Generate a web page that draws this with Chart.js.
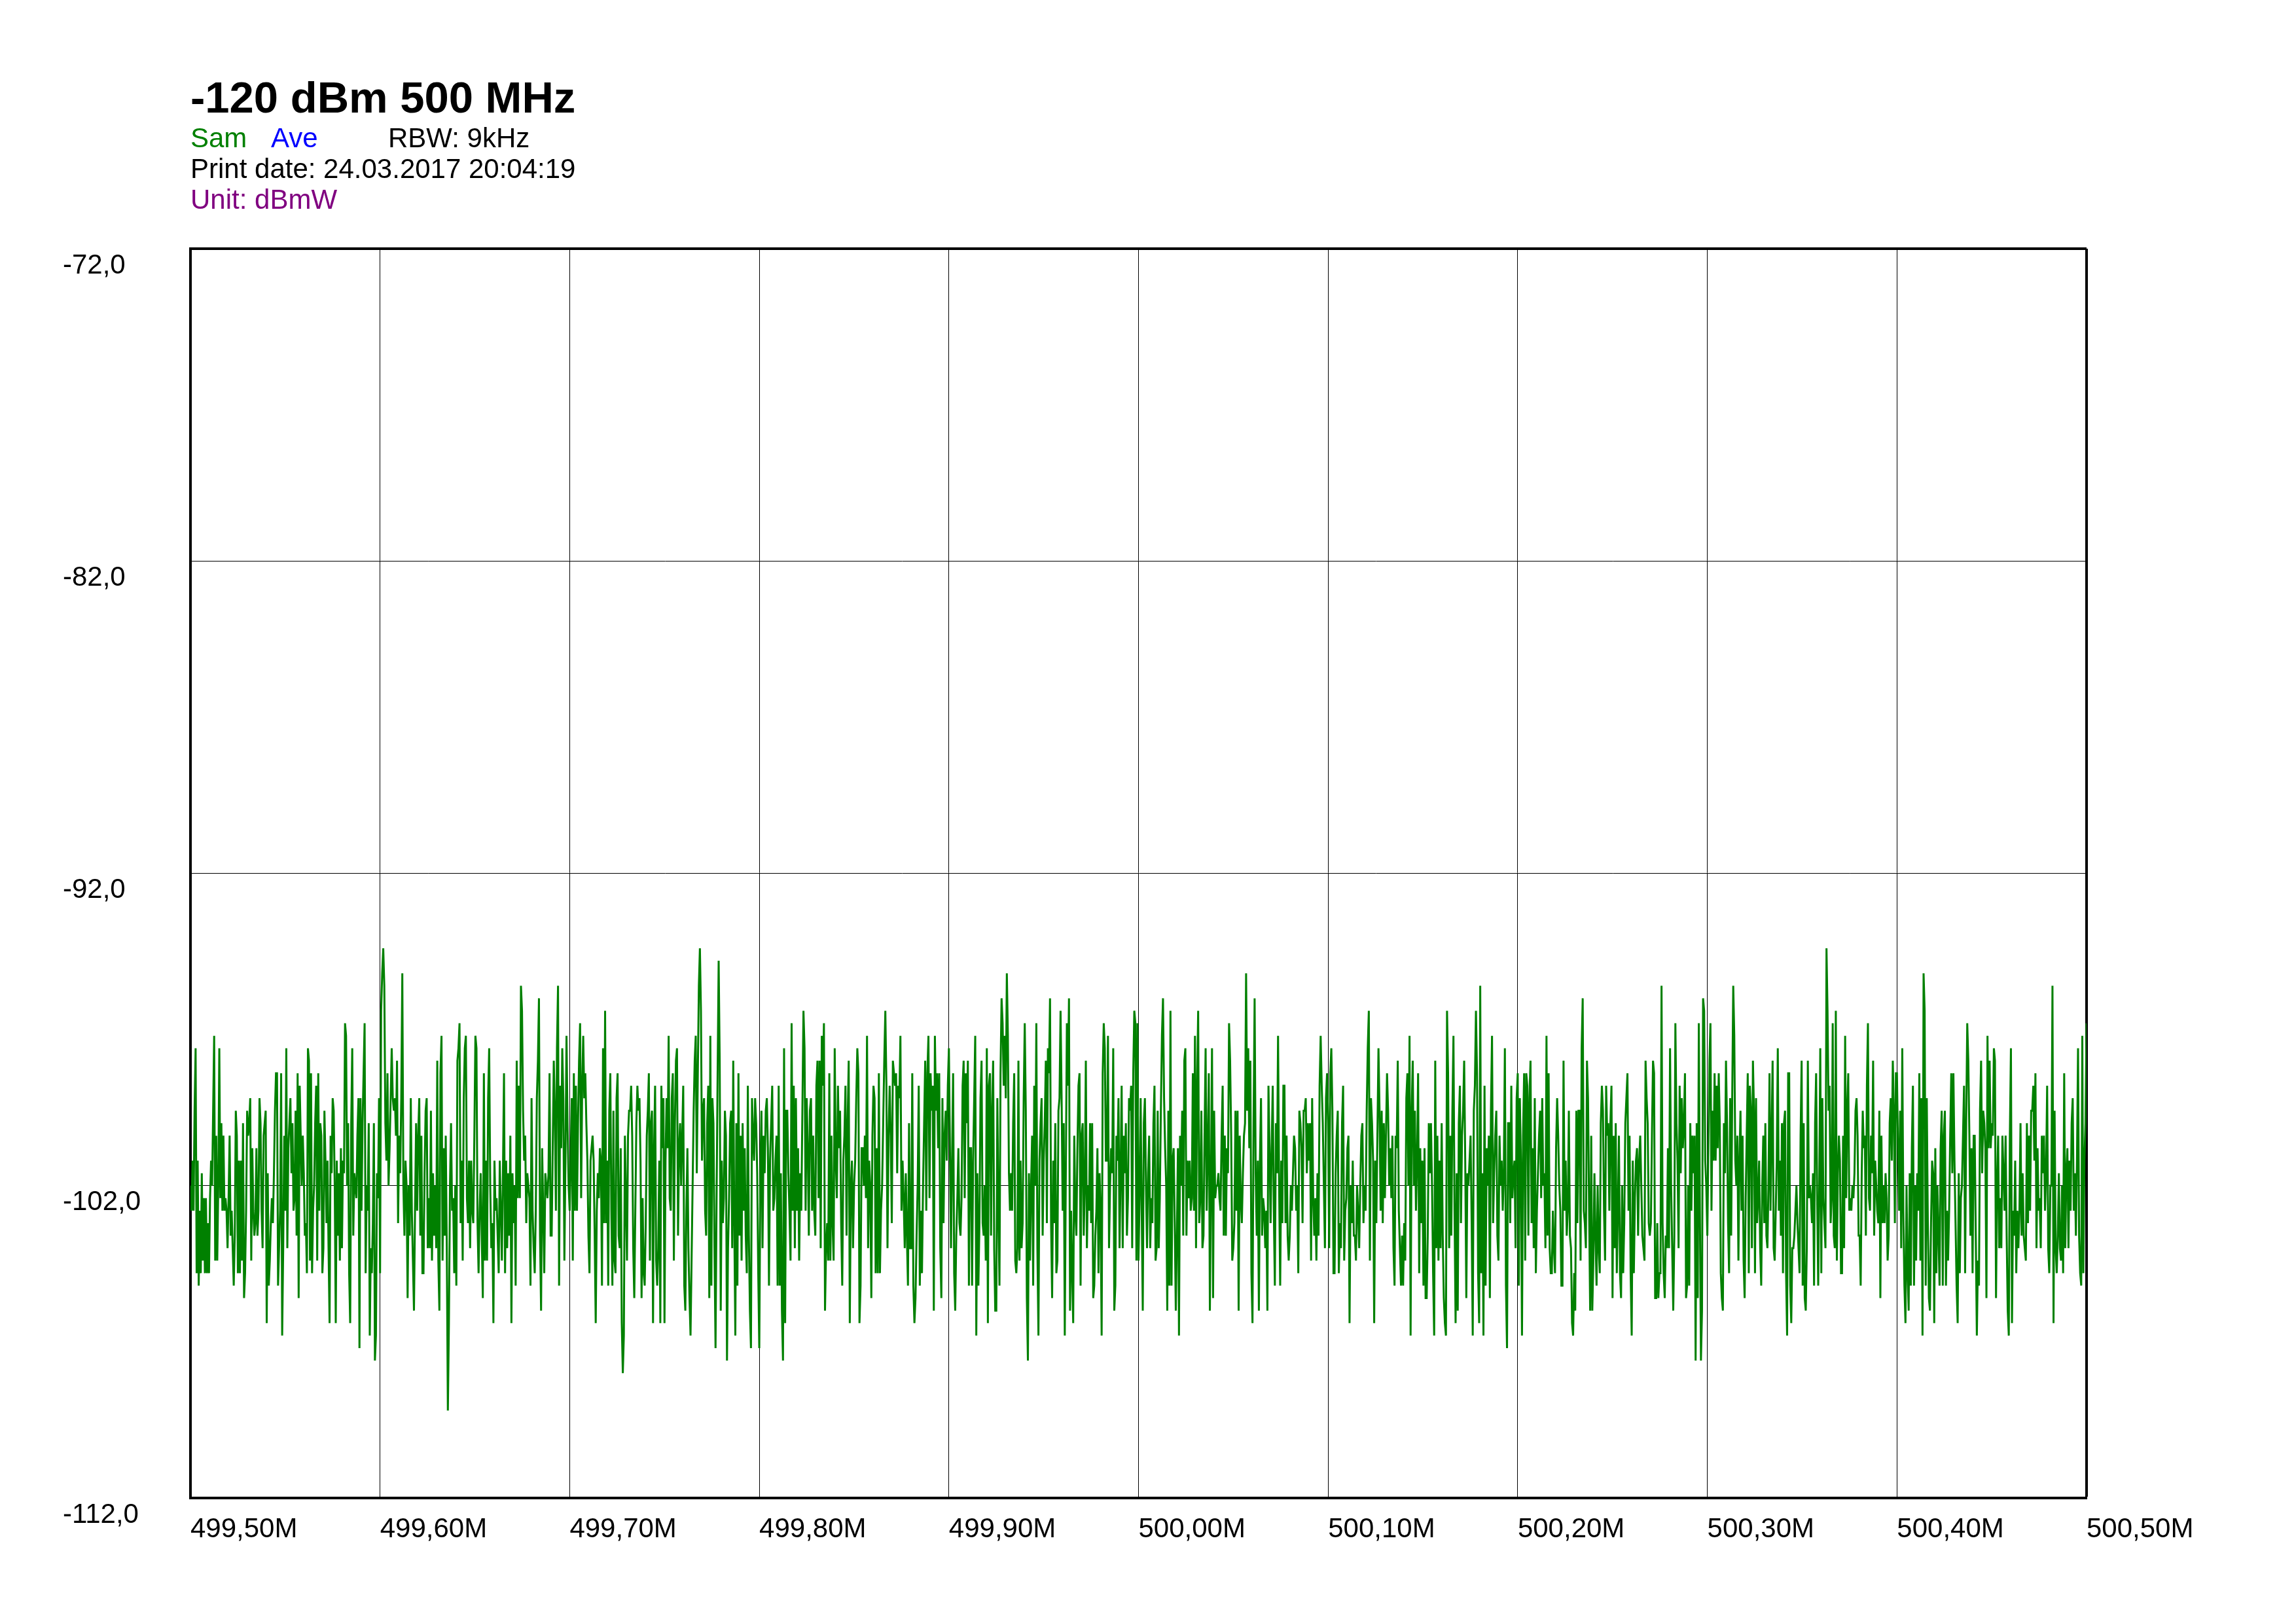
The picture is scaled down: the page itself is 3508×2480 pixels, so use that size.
<!DOCTYPE html>
<html>
<head>
<meta charset="utf-8">
<script src="https://cdn.jsdelivr.net/npm/chart.js@4.4.1/dist/chart.umd.min.js"></script>
<style>
  body { margin: 0; background: #fff; }
  #wrap { position: relative; width: 3508px; height: 2480px; }
  canvas { position: absolute; left: 0; top: 0; }
  .hdr { position: absolute; font-family: "Liberation Sans", Arial, sans-serif; white-space: nowrap; }
  .title { left: 291px; top: 115px; font-size: 67px; line-height: 67px; font-weight: bold; color: #000; }
  .line { font-size: 42px; line-height: 47px; }
</style>
</head>
<body>
<div id="wrap">
  <canvas id="chart" width="3508" height="2480"></canvas>
  <div class="hdr title">-120 dBm 500 MHz</div>
  <div class="hdr line" style="left:291px; top:187px; color:#008000;">Sam</div>
  <div class="hdr line" style="left:414px; top:187px; color:#0000ff;">Ave</div>
  <div class="hdr line" style="left:593px; top:187px; color:#000;">RBW: 9kHz</div>
  <div class="hdr line" style="left:291px; top:234px; color:#000;">Print date: 24.03.2017 20:04:19</div>
  <div class="hdr line" style="left:291px; top:281px; color:#800080;">Unit: dBmW</div>
</div>
<script>
// tick positions (MHz) and their labels
const xTickValues = [499.5, 499.6, 499.7, 499.8, 499.9, 500.0, 500.1, 500.2, 500.3, 500.4, 500.5];
const xTickLabels = ["499,50M", "499,60M", "499,70M", "499,80M", "499,90M", "500,00M", "500,10M", "500,20M", "500,30M", "500,40M", "500,50M"];
const yTickValues = [-112, -102, -92, -82, -72];
const yTickLabels = ["-112,0", "-102,0", "-92,0", "-82,0", "-72,0"];

// trace levels in dBm, one grid division at a time
const div0 = [-102.0, -102.8, -101.2, -102.8, -99.6, -97.6, -104.8, -101.2, -105.2, -102.8,
  -104.8, -101.6, -104.4, -102.4, -104.8, -102.4, -104.8, -103.2, -104.8, -102.4,
  -101.2, -102.0, -99.6, -97.2, -104.4, -100.4, -104.4, -102.0, -97.6, -102.4,
  -100.0, -102.8, -100.4, -102.8, -102.4, -102.8, -104.0, -102.4, -100.4, -103.6,
  -102.8, -104.0, -105.2, -103.6, -99.6, -100.4, -104.8, -101.2, -104.8, -101.2,
  -104.4, -100.0, -105.6, -104.8, -102.8, -99.6, -100.4, -100.0, -99.2, -104.4,
  -100.8, -102.8, -103.6, -103.2, -100.8, -103.6, -102.8, -99.2, -100.0, -102.8,
  -104.0, -100.4, -100.0, -99.6, -106.4, -101.6, -105.2, -104.4, -103.2, -102.4,
  -103.2, -101.6, -99.6, -98.4, -98.4, -105.2, -104.0, -102.8, -98.4, -106.8,
  -104.0, -100.4, -102.8, -97.6, -104.0, -100.8, -100.0, -99.2, -101.6, -100.0,
  -102.8, -102.4, -99.6, -103.6, -98.4, -105.6, -98.8, -100.4, -102.0, -100.4,
  -101.6, -103.6, -103.2, -104.8, -97.6, -98.0, -104.4, -98.4, -104.8, -102.8,
  -102.0, -100.0, -98.8, -104.4, -98.4, -102.8, -100.0, -100.4, -104.8, -104.0,
  -99.6, -101.2, -103.2, -101.2, -104.0, -106.4, -100.4, -101.6, -99.2, -99.6,
  -102.0, -106.4, -101.2, -103.6, -101.6, -104.4, -100.8, -104.0, -101.2, -101.6,
  -96.8, -97.2, -102.0, -100.0, -104.8, -106.4, -100.0, -97.6, -103.6, -101.6,
  -102.0, -102.4, -100.4, -99.2, -107.2, -99.2, -102.8, -100.0, -98.4, -96.8,
  -104.8, -102.0, -102.8, -100.0, -106.8, -104.0, -104.8, -103.2, -100.0, -107.6,
  -106.8, -101.6, -102.4, -99.2];
const div1 = [-104.8, -96.4, -95.2, -94.4, -95.6, -100.0, -101.2, -98.4, -102.0, -100.8,
  -99.2, -97.6, -99.2, -99.6, -99.2, -100.4, -98.0, -103.2, -100.4, -101.6,
  -99.2, -95.2, -102.0, -103.6, -101.2, -102.0, -105.6, -102.0, -103.6, -99.2,
  -102.8, -104.4, -106.0, -102.8, -100.0, -102.8, -100.4, -99.2, -103.6, -100.4,
  -104.8, -104.8, -101.6, -99.6, -99.2, -104.0, -102.4, -104.0, -99.6, -104.4,
  -101.6, -103.6, -102.0, -104.0, -98.0, -104.4, -106.0, -98.4, -97.2, -104.4,
  -100.8, -103.6, -100.4, -104.0, -109.2, -106.4, -102.0, -100.0, -102.8, -102.4,
  -104.8, -102.0, -105.2, -98.0, -97.6, -96.8, -103.2, -101.2, -104.4, -99.2,
  -97.6, -97.2, -102.4, -103.2, -101.2, -104.0, -101.2, -102.8, -103.2, -100.4,
  -97.2, -97.6, -103.2, -104.8, -102.8, -101.6, -103.6, -105.6, -98.4, -104.4,
  -101.2, -104.4, -99.2, -97.6, -102.0, -104.0, -103.2, -106.4, -101.2, -102.8,
  -102.4, -103.6, -104.8, -101.2, -102.8, -104.4, -101.6, -98.4, -104.8, -101.2,
  -104.0, -101.6, -103.6, -100.4, -106.4, -101.6, -103.2, -102.0, -105.2, -98.0,
  -102.4, -98.8, -102.4, -95.6, -96.4, -99.6, -101.2, -100.4, -103.2, -101.6,
  -102.0, -102.4, -105.2, -99.2, -102.8, -104.0, -104.8, -102.8, -99.2, -98.0,
  -96.0, -103.6, -106.0, -100.8, -102.8, -104.8, -101.6, -102.0, -102.4, -101.6,
  -98.4, -103.6, -103.6, -100.8, -98.0, -99.6, -102.8, -97.6, -95.6, -105.2,
  -98.8, -100.8, -97.6, -99.2, -104.4, -101.2, -97.2, -100.0, -102.0];
const div2 = [-102.8, -101.2, -99.2, -104.4, -98.4, -102.8, -98.8, -102.8, -100.0, -98.0,
  -96.8, -102.4, -98.8, -97.2, -99.2, -98.4, -100.0, -101.2, -103.6, -104.8,
  -101.2, -100.8, -100.4, -101.2, -103.6, -106.4, -102.8, -101.6, -102.4, -100.8,
  -101.2, -105.2, -97.6, -103.2, -96.4, -103.2, -101.2, -105.2, -99.6, -98.4,
  -102.8, -105.2, -99.6, -104.4, -104.8, -99.2, -98.4, -103.6, -104.0, -100.8,
  -106.4, -108.0, -106.8, -100.4, -102.4, -104.4, -100.4, -99.6, -99.6, -98.8,
  -100.4, -104.0, -105.6, -102.8, -100.0, -98.8, -99.6, -99.2, -101.2, -105.6,
  -102.4, -104.8, -105.2, -103.2, -100.4, -99.6, -98.4, -104.4, -100.0, -99.6,
  -106.4, -100.8, -98.8, -104.4, -105.2, -104.0, -101.2, -106.4, -98.8, -100.8,
  -99.2, -106.4, -101.2, -99.2, -100.8, -97.2, -102.4, -102.8, -99.2, -98.4,
  -104.4, -100.0, -98.0, -97.6, -103.6, -100.8, -100.0, -102.0, -100.4, -98.8,
  -105.2, -106.0, -102.8, -100.8, -104.0, -105.6, -106.8, -104.4, -102.0, -99.6,
  -98.0, -97.2, -101.6, -98.4, -95.6, -94.4, -96.4, -101.2, -99.6, -99.2,
  -102.8, -103.6, -100.0, -98.8, -105.6, -97.2, -105.2, -99.2, -100.0, -104.0,
  -107.2, -102.4, -98.4, -94.8, -98.0, -106.0, -101.2, -103.2, -102.4, -99.6,
  -100.4, -107.6, -104.0, -102.4, -100.0, -99.6, -104.0, -98.0, -103.2, -106.8,
  -100.0, -105.2, -98.4, -103.6, -100.4, -104.4, -100.0, -102.8, -100.8, -103.6,
  -104.8, -98.8, -103.6, -106.0, -107.2, -99.2, -100.4, -101.2, -99.2, -100.0,
  -101.6, -104.8];
const div3 = [-107.2, -101.6, -99.6, -104.0, -100.4, -101.6, -99.6, -99.2, -100.8, -105.2,
  -101.2, -100.0, -98.8, -102.8, -102.4, -101.2, -100.4, -105.2, -98.8, -105.2,
  -101.6, -106.0, -107.6, -97.6, -106.4, -99.6, -99.6, -101.6, -102.8, -104.4,
  -96.8, -102.8, -98.8, -104.0, -99.2, -102.8, -100.8, -104.4, -101.6, -102.8,
  -99.6, -96.4, -97.6, -102.8, -99.2, -100.8, -103.6, -99.6, -99.2, -102.8,
  -100.4, -102.8, -103.6, -98.8, -98.0, -102.4, -98.0, -104.0, -97.2, -98.8,
  -96.8, -106.0, -104.0, -103.2, -104.4, -98.4, -104.4, -100.4, -103.2, -104.4,
  -97.6, -101.2, -102.4, -98.8, -100.8, -99.6, -103.2, -105.2, -101.2, -100.4,
  -98.8, -103.6, -100.0, -98.0, -106.4, -102.0, -101.2, -104.0, -102.0, -101.2,
  -99.2, -97.6, -98.4, -106.4, -105.2, -100.8, -100.8, -102.0, -100.4, -102.4,
  -97.2, -104.0, -101.2, -102.0, -105.6, -100.4, -98.8, -99.2, -104.8, -100.8,
  -104.8, -98.4, -104.8, -102.8, -102.0, -100.0, -98.0, -96.4, -98.8, -104.0,
  -100.4, -98.8, -100.4, -103.2, -98.0, -98.4, -98.8, -98.4, -101.6, -98.8,
  -99.2, -97.2, -102.8, -101.2, -102.4, -104.0, -101.6, -103.6, -105.2, -100.0,
  -104.0, -104.0, -98.4, -105.2, -106.4, -105.6, -103.6, -102.0, -98.8, -105.2,
  -102.8, -104.8, -102.0, -100.0, -98.0, -102.8, -98.4, -97.2, -102.4, -98.4,
  -99.6, -98.8, -106.0, -97.2, -99.6, -98.4, -100.8, -98.4, -104.0, -105.6,
  -99.2, -103.2, -100.4, -99.6, -101.2, -98.8];
const div4 = [-97.6, -100.8, -104.0, -101.2, -98.4, -104.8, -106.0, -103.6, -102.4, -100.8,
  -103.2, -103.6, -102.4, -98.8, -98.0, -102.4, -98.4, -100.0, -98.0, -105.2,
  -100.8, -100.8, -105.2, -101.2, -99.2, -97.2, -106.8, -101.6, -105.2, -103.2,
  -99.2, -98.0, -103.2, -103.6, -102.0, -104.4, -97.6, -106.4, -98.8, -98.4,
  -103.6, -99.6, -98.0, -104.0, -106.0, -106.0, -99.2, -102.8, -105.2, -98.4,
  -96.0, -96.8, -98.8, -97.2, -99.2, -95.2, -97.2, -101.6, -102.8, -101.6,
  -102.8, -100.0, -98.4, -104.4, -104.8, -104.0, -98.0, -104.4, -101.2, -104.0,
  -103.2, -99.2, -96.8, -99.6, -105.6, -107.6, -101.6, -104.4, -102.0, -100.4,
  -105.2, -98.8, -102.0, -96.8, -104.0, -106.8, -101.2, -100.0, -99.2, -103.6,
  -101.2, -100.0, -98.0, -103.2, -97.6, -98.4, -96.0, -103.2, -105.6, -101.2,
  -103.2, -100.0, -104.8, -104.4, -99.6, -99.2, -96.4, -99.2, -102.8, -100.0,
  -106.8, -101.6, -96.8, -98.8, -96.0, -106.0, -102.8, -104.8, -106.4, -100.4,
  -102.8, -103.6, -100.8, -98.8, -98.4, -105.2, -100.4, -100.0, -103.6, -102.0,
  -98.0, -104.0, -102.0, -102.8, -100.0, -103.2, -100.0, -105.6, -105.2, -103.6,
  -102.8, -100.8, -104.8, -101.6, -102.8, -106.8, -98.4, -96.8, -97.6, -101.2,
  -101.2, -97.2, -104.0, -102.0, -100.8, -101.6, -97.6, -106.0, -105.2, -100.4,
  -101.2, -99.2, -104.0, -101.6, -98.8, -104.0, -100.4, -101.6, -100.0, -103.6,
  -102.4, -99.2, -99.6, -98.8, -104.0, -98.4, -96.4, -96.8, -104.4, -96.8];
const div5 = [-104.4, -102.4, -99.2, -102.8, -106.0, -100.0, -99.2, -102.0, -104.0, -101.6,
  -100.4, -104.0, -102.4, -103.2, -100.0, -98.8, -104.4, -104.0, -99.6, -104.0,
  -102.4, -99.6, -97.2, -96.0, -99.2, -100.8, -102.0, -106.0, -99.6, -105.2,
  -96.4, -105.2, -101.2, -100.8, -103.2, -106.0, -103.6, -100.8, -106.8, -100.4,
  -102.0, -99.6, -103.6, -98.0, -97.6, -103.6, -101.2, -102.4, -101.2, -102.8,
  -102.4, -98.4, -102.8, -97.2, -104.0, -98.8, -96.4, -103.2, -102.4, -99.6,
  -104.0, -103.6, -100.4, -97.6, -102.8, -100.8, -98.4, -106.0, -102.0, -97.6,
  -105.6, -99.6, -102.4, -102.0, -102.0, -101.6, -102.4, -102.8, -100.4, -98.8,
  -103.6, -100.4, -103.6, -100.8, -101.6, -96.8, -98.0, -100.4, -104.4, -104.0,
  -103.2, -99.6, -102.8, -99.6, -106.0, -100.4, -102.4, -103.2, -101.6, -100.4,
  -100.0, -95.2, -99.6, -97.6, -100.8, -98.0, -104.8, -106.4, -100.0, -96.0,
  -101.6, -103.6, -101.2, -106.0, -101.2, -99.2, -103.6, -102.4, -102.8, -104.0,
  -102.8, -106.0, -98.8, -100.8, -103.2, -100.8, -98.8, -102.8, -105.2, -100.0,
  -101.6, -97.2, -102.0, -105.2, -101.2, -103.2, -98.8, -98.8, -103.2, -100.4,
  -103.6, -104.4, -103.6, -102.0, -102.8, -101.6, -100.4, -100.8, -102.8, -102.0,
  -104.8, -99.6, -100.0, -100.8, -103.2, -99.6, -99.6, -99.2, -101.6, -100.0,
  -101.2, -100.0, -104.4, -99.2, -102.4, -103.6, -102.4, -104.4, -101.6, -103.6,
  -98.8, -97.2, -98.8, -100.0, -102.0, -104.0, -99.2, -98.4];
const div6 = [-100.0, -104.0, -98.4, -97.6, -99.6, -104.8, -104.8, -101.6, -100.4, -99.6,
  -104.8, -103.2, -104.0, -100.0, -98.8, -104.4, -102.8, -102.4, -100.8, -100.4,
  -106.4, -102.0, -103.2, -101.2, -103.6, -103.6, -104.4, -102.0, -102.8, -104.0,
  -102.0, -100.4, -100.0, -103.2, -102.0, -102.8, -99.6, -97.6, -96.4, -104.4,
  -99.2, -100.0, -101.2, -106.4, -101.2, -103.2, -100.4, -97.6, -99.6, -102.8,
  -99.6, -103.2, -100.0, -102.4, -100.4, -98.4, -99.6, -102.0, -100.8, -102.4,
  -100.4, -104.0, -105.2, -100.4, -100.8, -98.0, -102.8, -104.0, -105.2, -103.6,
  -105.2, -103.2, -104.4, -99.2, -98.4, -102.0, -97.2, -106.8, -99.6, -98.0,
  -102.0, -99.6, -102.8, -101.2, -98.4, -104.8, -100.8, -103.2, -101.2, -105.2,
  -100.8, -105.6, -105.6, -103.6, -100.0, -101.6, -100.0, -102.0, -104.8, -106.8,
  -98.0, -104.0, -100.4, -104.4, -101.2, -104.0, -100.0, -103.6, -105.6, -106.4,
  -106.8, -96.4, -98.4, -104.0, -100.4, -103.6, -99.6, -97.2, -102.8, -106.4,
  -101.6, -106.0, -100.0, -98.8, -103.2, -100.4, -99.6, -98.0, -101.2, -105.6,
  -101.6, -102.0, -101.2, -100.4, -103.2, -106.8, -99.6, -98.8, -96.4, -98.4,
  -104.8, -106.4, -95.6, -104.8, -101.6, -106.8, -98.8, -105.2, -100.8, -102.0,
  -100.4, -105.6, -99.6, -97.2, -103.2, -101.6, -100.4, -99.6, -103.6, -104.4,
  -100.4, -102.0, -101.2, -102.8, -101.6, -97.6, -105.2, -107.2, -100.0, -100.0,
  -103.2, -98.8, -102.4, -101.6, -101.2, -104.0, -99.2];
const div7 = [-98.4, -105.2, -99.2, -101.2, -106.8, -100.4, -98.4, -104.4, -98.4, -98.8,
  -103.6, -99.2, -98.0, -103.2, -100.8, -104.0, -99.2, -104.8, -102.8, -101.6,
  -100.4, -99.6, -102.4, -99.2, -102.0, -101.6, -104.0, -97.2, -103.6, -98.4,
  -104.0, -104.8, -104.8, -102.8, -104.0, -104.8, -100.8, -99.2, -100.4, -102.0,
  -102.8, -105.2, -105.2, -98.0, -102.8, -101.2, -103.6, -102.8, -99.6, -103.6,
  -104.0, -106.4, -106.8, -104.8, -106.0, -99.6, -103.2, -99.6, -99.6, -104.4,
  -97.6, -96.0, -102.8, -103.2, -104.0, -98.0, -99.2, -102.8, -106.0, -100.4,
  -106.0, -104.4, -101.6, -103.6, -105.2, -102.0, -104.0, -104.8, -100.0, -98.8,
  -99.6, -102.8, -104.4, -98.8, -100.4, -100.0, -102.8, -100.0, -98.8, -105.6,
  -100.4, -104.0, -100.0, -104.8, -102.8, -100.4, -104.8, -105.6, -102.0, -104.8,
  -103.2, -100.0, -99.2, -98.4, -102.8, -100.4, -104.8, -106.8, -101.2, -104.8,
  -102.4, -101.2, -100.8, -103.6, -101.2, -100.4, -102.0, -103.6, -104.0, -104.4,
  -98.0, -99.2, -100.0, -103.2, -103.6, -103.2, -100.4, -98.0, -98.4, -105.6,
  -105.6, -103.2, -105.6, -104.8, -104.8, -95.6, -103.2, -104.8, -105.6, -103.6,
  -104.0, -100.8, -104.0, -97.6, -102.0, -104.0, -106.0, -103.6, -96.8, -100.0,
  -101.2, -104.0, -98.8, -101.6, -99.2, -100.8, -100.0, -98.4, -105.6, -105.2,
  -102.0, -105.2, -100.0, -102.8, -100.4, -101.6, -100.4, -107.6, -100.0, -105.6,
  -96.8, -102.8, -107.6, -106.0, -96.0, -96.4, -101.2, -102.0];
const div8 = [-103.6, -100.8, -98.0, -96.8, -102.8, -99.6, -101.2, -98.4, -101.2, -98.8,
  -100.8, -98.4, -100.0, -104.8, -105.6, -106.0, -100.0, -101.6, -98.0, -100.0,
  -103.2, -104.8, -99.2, -103.6, -99.2, -95.6, -97.2, -101.2, -102.0, -100.4,
  -104.4, -101.2, -99.6, -102.8, -100.4, -104.4, -105.6, -102.4, -100.4, -98.4,
  -104.8, -98.8, -99.6, -104.0, -98.0, -99.6, -104.8, -99.2, -103.2, -102.4,
  -101.2, -104.0, -105.2, -102.0, -100.4, -103.2, -100.0, -103.6, -104.0, -102.0,
  -98.4, -102.8, -100.4, -98.0, -104.0, -104.4, -102.8, -101.2, -97.6, -102.8,
  -101.2, -103.6, -100.0, -104.8, -100.0, -99.6, -104.8, -106.8, -98.4, -98.4,
  -105.2, -106.4, -104.0, -104.0, -103.6, -102.8, -102.0, -103.2, -104.0, -104.8,
  -100.4, -98.0, -105.2, -100.0, -105.6, -106.0, -104.0, -98.0, -102.4, -102.0,
  -102.4, -103.2, -101.6, -105.2, -100.0, -98.4, -102.4, -105.2, -102.0, -97.6,
  -104.8, -99.2, -102.4, -103.2, -104.0, -94.4, -96.4, -99.6, -98.8, -103.2,
  -102.4, -96.8, -103.6, -104.0, -96.4, -104.4, -101.6, -100.4, -101.2, -104.8,
  -104.8, -100.4, -104.0, -97.2, -102.4, -99.6, -98.4, -102.8, -102.4, -102.8,
  -102.0, -102.4, -101.6, -99.6, -99.2, -100.4, -103.6, -103.6, -105.2, -101.6,
  -99.6, -100.8, -100.4, -103.6, -98.8, -96.8, -102.4, -102.8, -100.4, -101.6,
  -98.0, -103.6, -101.2, -102.0, -102.8, -103.2, -99.6, -105.6, -100.4, -103.2,
  -102.0, -103.2, -101.6, -102.4, -104.4, -103.6, -100.0, -99.2, -101.2, -98.0,
  -99.6, -103.2, -98.4];
const div9 = [-98.4, -100.8, -102.8, -99.6, -104.0, -97.6, -102.8, -105.2, -106.4, -102.0,
  -104.8, -106.0, -101.6, -105.2, -100.8, -98.8, -105.2, -102.0, -104.4, -101.6,
  -102.8, -98.4, -104.4, -99.2, -106.8, -95.2, -96.4, -105.2, -99.2, -103.2,
  -105.6, -106.0, -103.2, -101.2, -101.6, -106.4, -100.8, -104.8, -102.0, -103.6,
  -105.2, -100.8, -99.6, -105.2, -100.4, -99.6, -105.2, -102.8, -104.4, -102.8,
  -100.4, -98.4, -101.6, -98.4, -101.2, -103.2, -105.2, -106.4, -101.6, -104.8,
  -102.4, -102.0, -100.4, -98.8, -104.8, -100.0, -96.8, -98.0, -100.4, -103.6,
  -100.8, -104.8, -100.4, -100.4, -103.6, -106.8, -104.4, -105.2, -99.6, -98.0,
  -101.6, -99.6, -100.0, -100.8, -105.6, -97.2, -100.8, -98.0, -100.8, -100.0,
  -100.4, -97.6, -98.0, -105.6, -102.0, -100.4, -104.0, -102.4, -104.0, -100.4,
  -101.6, -102.8, -100.4, -103.6, -106.0, -106.8, -100.4, -97.6, -106.4, -102.8,
  -103.6, -101.2, -104.8, -102.8, -104.0, -102.8, -100.0, -103.6, -101.6, -103.6,
  -104.0, -104.4, -100.0, -103.2, -100.4, -102.8, -99.6, -99.6, -98.8, -101.2,
  -98.4, -104.0, -100.8, -102.8, -102.4, -104.0, -100.4, -101.6, -100.4, -102.8,
  -101.6, -98.8, -104.0, -104.8, -102.0, -102.0, -95.6, -106.4, -99.6, -104.0,
  -104.8, -103.6, -101.6, -104.0, -104.4, -102.0, -104.8, -98.4, -104.0, -101.6,
  -100.8, -104.0, -101.2, -102.8, -100.0, -99.2, -102.8, -101.6, -103.6, -101.2,
  -97.6, -103.6, -104.8, -105.2, -97.2, -104.8, -101.2, -100.0, -96.8];

const divisions = [div0, div1, div2, div3, div4, div5, div6, div7, div8, div9];

// spread each division's samples across its own 100 kHz cell
const trace = [];
divisions.forEach((vals, d) => {
    const a = xTickValues[d];
    const b = xTickValues[d + 1];
    const n = d === divisions.length - 1 ? vals.length - 1 : vals.length;
    vals.forEach((v, j) => {
        trace.push({ x: a + (b - a) * j / n, y: v });
    });
});

const tickFont = { family: "'Liberation Sans', Arial, sans-serif", size: 42, lineHeight: 1.2 };

const ctx = document.getElementById("chart").getContext("2d");
new Chart(ctx, {
    type: "line",
    data: {
        datasets: [{
            data: trace,
            borderColor: "#008000",
            borderWidth: 3,
            pointRadius: 0,
            tension: 0,
            fill: false
        }]
    },
    options: {
        responsive: false,
        animation: false,
        devicePixelRatio: 1,
        parsing: false,
        layout: { padding: { left: 96, top: 380, right: 320, bottom: 0 } },
        plugins: { legend: { display: false }, tooltip: { enabled: false }, title: { display: false } },
        scales: {
            x: {
                type: "linear",
                min: xTickValues[0],
                max: xTickValues[xTickValues.length - 1],
                afterBuildTicks: (scale) => { scale.ticks = xTickValues.map(v => ({ value: v })); },
                afterFit: (scale) => { scale.height = 191; },
                border: { display: true, color: "#000", width: 4 },
                grid: {
                    color: "#000",
                    lineWidth: (c) => (c.tick && c.tick.value === xTickValues[xTickValues.length - 1]) ? 4 : 1,
                    drawTicks: false
                },
                ticks: {
                    autoSkip: false,
                    maxRotation: 0,
                    align: "start",
                    padding: 23,
                    color: "#000",
                    font: tickFont,
                    callback: (v) => xTickLabels[xTickValues.indexOf(v)]
                }
            },
            y: {
                type: "linear",
                min: yTickValues[0],
                max: yTickValues[yTickValues.length - 1],
                afterBuildTicks: (scale) => { scale.ticks = yTickValues.map(v => ({ value: v })); },
                afterFit: (scale) => { scale.width = 195; },
                border: { display: true, color: "#000", width: 4 },
                grid: {
                    color: "#000",
                    lineWidth: (c) => (c.tick && c.tick.value === yTickValues[yTickValues.length - 1]) ? 4 : 1,
                    drawTicks: false
                },
                ticks: {
                    crossAlign: "far",
                    labelOffset: 26,
                    color: "#000",
                    font: tickFont,
                    callback: (v) => yTickLabels[yTickValues.indexOf(v)]
                }
            }
        }
    }
});
</script>
</body>
</html>
